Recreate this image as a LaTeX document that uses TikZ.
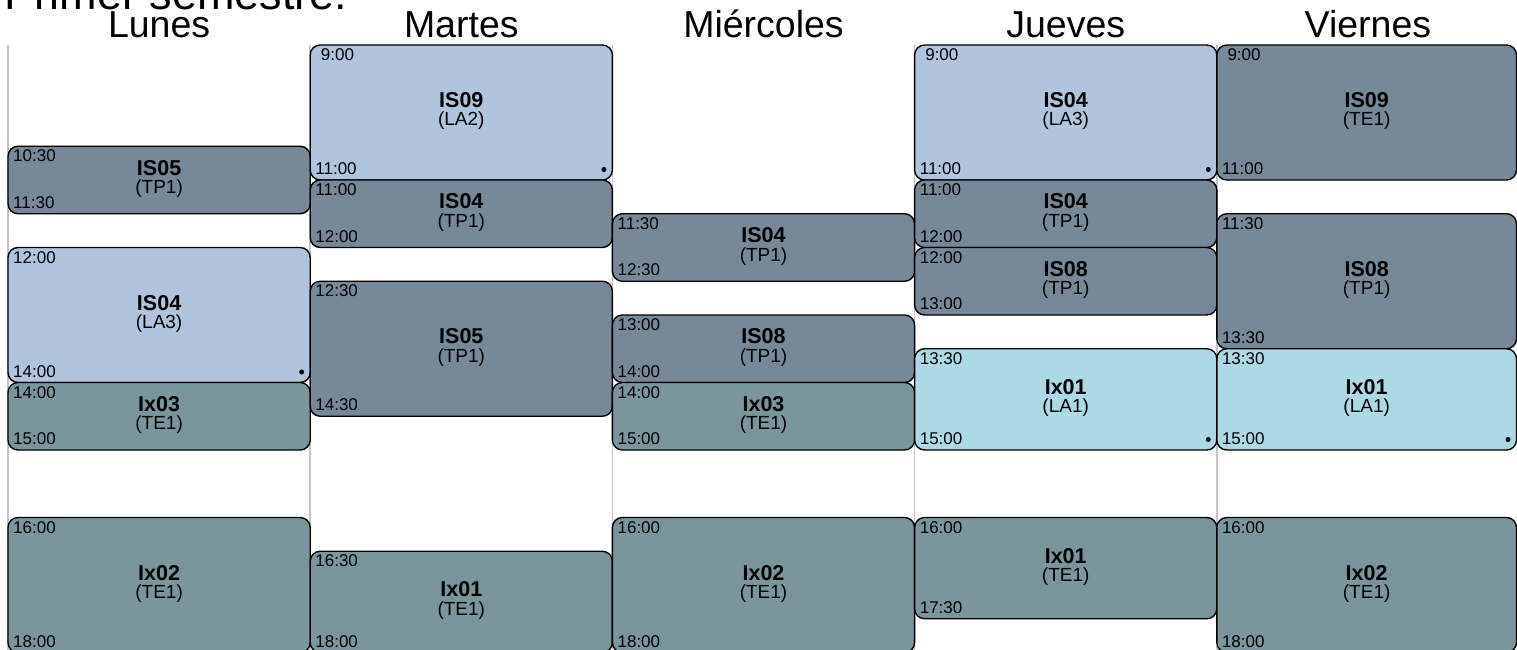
\documentclass[tikz,border=0pt]{standalone}
\usepackage{fontspec}
\setmainfont{Liberation Sans}
\definecolor{labIS}{HTML}{B0C4DE}
\definecolor{teIS}{HTML}{778899}
\definecolor{labIx}{HTML}{ADD8E6}
\definecolor{teIx}{HTML}{7A959B}
\definecolor{sepgray}{HTML}{C4C4C4}
\tikzset{
  slotbox/.style={draw=black, line width=1.4pt, rounded corners=10pt, inner sep=0pt, outer sep=0pt},
  isla/.style={fill=labIS},
  iste/.style={fill=teIS},
  ixla/.style={fill=labIx},
  ixte/.style={fill=teIx},
  timelab/.style={inner sep=0pt, font=\fontsize{17}{20}\selectfont},
  codelab/.style={inner sep=0pt, font=\fontsize{21.5}{24}\selectfont\bfseries},
  grplab/.style={inner sep=0pt, font=\fontsize{19}{22}\selectfont},
  dayname/.style={inner sep=0pt, font=\fontsize{37.5}{42}\selectfont},
  titlelab/.style={inner sep=0pt, font=\fontsize{45}{50}\selectfont},
  dotmark/.style={circle, fill=black, inner sep=0pt, minimum size=5pt},
  sepline/.style={draw=sepgray, line width=1.5pt}
}
\newcommand\slot[9]{%
  \pgfmathsetmacro\sxl{8+302.2*#2}%
  \pgfmathsetmacro\sxr{min(\sxl+302.2,1516.5)}%
  \pgfmathsetmacro\syt{45+(#3-9)*67.5}%
  \pgfmathsetmacro\syb{45+(#4-9)*67.5}%
  \pgfmathsetmacro\sw{\sxr-\sxl}%
  \pgfmathsetmacro\sh{\syb-\syt}%
  \node[slotbox,#9,minimum width=\sw pt,minimum height=\sh pt,anchor=north west] (#1) at (\sxl,\syt) {};
  \node[timelab,anchor=base west] (#1-s) at ([xshift=5pt,yshift=-15.7pt]#1.north west) {#5};
  \node[timelab,anchor=base west] (#1-e) at ([xshift=5pt,yshift=5.5pt]#1.south west) {#6};
  \node[codelab,anchor=base] (#1-c) at ([yshift=5pt]#1.center) {#7};
  \node[grplab,anchor=base] (#1-g) at ([yshift=-13.5pt]#1.center) {(#8)};
}
\newcommand\labdot[1]{\node[dotmark] (#1-dot) at ([xshift=-8.5pt,yshift=10.5pt]#1.south east) {};}
\begin{document}
\begin{tikzpicture}[x=1pt,y=-1pt]
\useasboundingbox[fill=white] (0,0) rectangle (1517,650);
\node[titlelab,anchor=base west] (title) at (4.5,10) {Primer semestre:};
\foreach \i/\d in {0/Lunes,1/Martes,2/Miércoles,3/Jueves,4/Viernes}{
  \node[dayname,anchor=base] (day\i) at ({8+302.2*(\i+0.5)},38) {\d};
  \draw[sepline] ({8+302.2*\i},45) -- ({8+302.2*\i},650);
}
% Lunes
\slot{lu1}{0}{10.5}{11.5}{10:30}{11:30}{IS05}{TP1}{iste}
\slot{lu2}{0}{12}{14}{12:00}{14:00}{IS04}{LA3}{isla}
\labdot{lu2}
\slot{lu3}{0}{14}{15}{14:00}{15:00}{Ix03}{TE1}{ixte}
\slot{lu4}{0}{16}{18}{16:00}{18:00}{Ix02}{TE1}{ixte}
% Martes
\slot{ma1}{1}{9}{11}{\hspace{5.5pt}9:00}{11:00}{IS09}{LA2}{isla}
\labdot{ma1}
\slot{ma2}{1}{11}{12}{11:00}{12:00}{IS04}{TP1}{iste}
\slot{ma3}{1}{12.5}{14.5}{12:30}{14:30}{IS05}{TP1}{iste}
\slot{ma4}{1}{16.5}{18}{16:30}{18:00}{Ix01}{TE1}{ixte}
% Miercoles
\slot{mi1}{2}{11.5}{12.5}{11:30}{12:30}{IS04}{TP1}{iste}
\slot{mi2}{2}{13}{14}{13:00}{14:00}{IS08}{TP1}{iste}
\slot{mi3}{2}{14}{15}{14:00}{15:00}{Ix03}{TE1}{ixte}
\slot{mi4}{2}{16}{18}{16:00}{18:00}{Ix02}{TE1}{ixte}
% Jueves
\slot{ju1}{3}{9}{11}{\hspace{5.5pt}9:00}{11:00}{IS04}{LA3}{isla}
\labdot{ju1}
\slot{ju2}{3}{11}{12}{11:00}{12:00}{IS04}{TP1}{iste}
\slot{ju3}{3}{12}{13}{12:00}{13:00}{IS08}{TP1}{iste}
\slot{ju4}{3}{13.5}{15}{13:30}{15:00}{Ix01}{LA1}{ixla}
\labdot{ju4}
\slot{ju5}{3}{16}{17.5}{16:00}{17:30}{Ix01}{TE1}{ixte}
% Viernes
\slot{vi1}{4}{9}{11}{\hspace{5.5pt}9:00}{11:00}{IS09}{TE1}{iste}
\slot{vi2}{4}{11.5}{13.5}{11:30}{13:30}{IS08}{TP1}{iste}
\slot{vi3}{4}{13.5}{15}{13:30}{15:00}{Ix01}{LA1}{ixla}
\labdot{vi3}
\slot{vi4}{4}{16}{18}{16:00}{18:00}{Ix02}{TE1}{ixte}
\end{tikzpicture}
\end{document}
